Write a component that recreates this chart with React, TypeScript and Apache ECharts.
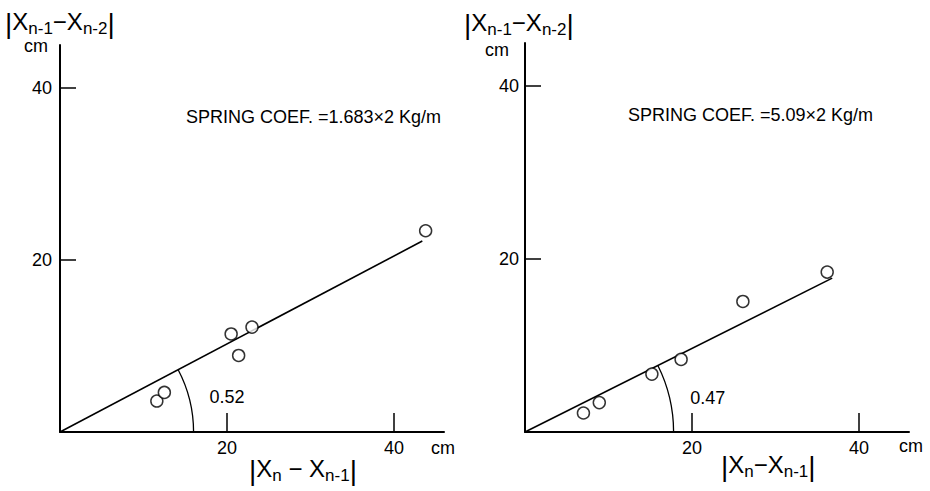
import React, { useEffect, useRef } from 'react';
import * as echarts from 'echarts';

// ---------- data ----------
const tickValues = [20, 40];

const leftX = [11.6, 12.5, 20.5, 21.4, 23.0, 43.8];
const leftY = [3.6, 4.6, 11.4, 8.9, 12.2, 23.4];
const leftFitX = [0, 43.4];
const leftFitY = [0, 22.2];
const leftArcRadius = 16.0;
const leftAngleLabel = '0.52';
const leftAngleLabelPos = [17.9, 4.1];
const leftCoef = 'SPRING COEF. =1.683×2 Kg/m';

const rightX = [7.0, 8.9, 15.2, 18.7, 26.1, 36.2];
const rightY = [2.2, 3.4, 6.7, 8.4, 15.1, 18.5];
const rightFitX = [0, 36.8];
const rightFitY = [0, 17.8];
const rightArcRadius = 17.8;
const rightAngleLabel = '0.47';
const rightAngleLabelPos = [19.8, 3.9];
const rightCoef = 'SPRING COEF. =5.09×2 Kg/m';

const FONT = 'Liberation Sans';

function axisPair(gridIndex: number, yLabelMargin: number) {
  const x = {
    gridIndex,
    type: 'value',
    min: 0,
    max: 46,
    interval: 20,
    axisLine: { show: true, onZero: false, lineStyle: { color: '#000', width: 2 } },
    axisTick: { show: true, inside: true, length: 19, customValues: tickValues, lineStyle: { color: '#000', width: 1.5 } },
    axisLabel: { customValues: tickValues, color: '#000', fontSize: 18, margin: 7, fontFamily: FONT },
    splitLine: { show: false },
  };
  const y = {
    gridIndex,
    type: 'value',
    min: 0,
    max: 45,
    interval: 20,
    axisLine: { show: true, onZero: false, lineStyle: { color: '#000', width: 2 } },
    axisTick: { show: true, inside: true, length: 16, customValues: tickValues, lineStyle: { color: '#000', width: 1.5 } },
    axisLabel: { customValues: tickValues, color: '#000', fontSize: 18, margin: yLabelMargin, fontFamily: FONT },
    splitLine: { show: false },
  };
  return { x, y };
}

function seriesFor(idx: number, xs: number[], ys: number[], fx: number[], fy: number[], arcR: number, label: string, labelPos: number[]) {
  return [
    {
      type: 'line',
      xAxisIndex: idx,
      yAxisIndex: idx,
      data: fx.map((v, i) => [v, fy[i]]),
      symbol: 'none',
      lineStyle: { color: '#000', width: 1.6 },
      z: 2,
    },
    {
      type: 'scatter',
      xAxisIndex: idx,
      yAxisIndex: idx,
      data: xs.map((v, i) => [v, ys[i]]),
      symbol: 'circle',
      symbolSize: 12,
      itemStyle: { color: '#fff', borderColor: '#000', borderWidth: 1.5 },
      z: 3,
    },
    {
      type: 'custom',
      xAxisIndex: idx,
      yAxisIndex: idx,
      clip: false,
      data: [[arcR, fx[1], fy[1], labelPos[0], labelPos[1]]],
      renderItem: (params: any, api: any) => {
        const o = api.coord([0, 0]);
        const e = api.coord([api.value(1), api.value(2)]);
        const r = api.size([api.value(0), 0])[0];
        const ang = Math.atan2(e[1] - o[1], e[0] - o[0]);
        const lp = api.coord([api.value(3), api.value(4)]);
        return {
          type: 'group',
          children: [
            {
              type: 'arc',
              shape: { cx: o[0], cy: o[1], r, startAngle: ang, endAngle: 0, clockwise: true },
              style: { stroke: '#000', fill: 'none', lineWidth: 1.3 },
            },
            {
              type: 'text',
              x: lp[0],
              y: lp[1],
              style: { text: label, fill: '#000', fontSize: 18, fontFamily: FONT, align: 'left', verticalAlign: 'middle' },
            },
          ],
        };
      },
    },
  ];
}

function titleText(x: number, y: number, main: string[], subs: string[], sep: string) {
  let text = '{bar||}';
  main.forEach((m, i) => {
    text += `{m|${m}}{s|${subs[i]}}`;
    if (i < main.length - 1) text += `{m|${sep}}`;
  });
  text += '{bar||}';
  return {
    type: 'text',
    x,
    y,
    style: {
      text,
      fill: '#000',
      fontFamily: FONT,
      verticalAlign: 'middle',
      rich: {
        bar: { fontSize: 28, lineHeight: 28, verticalAlign: 'bottom', fontFamily: FONT, color: '#000' },
        m: { fontSize: 24, lineHeight: 24, verticalAlign: 'bottom', padding: [0, 0, 4, 0], fontFamily: FONT, color: '#000' },
        s: { fontSize: 17, lineHeight: 17, verticalAlign: 'bottom', fontFamily: FONT, color: '#000' },
      },
    },
  };
}

function plainText(x: number, y: number, text: string, fontSize = 18) {
  return {
    type: 'text',
    x,
    y,
    style: { text, fill: '#000', fontSize, fontFamily: FONT, verticalAlign: 'middle' },
  };
}

export default function App() {
  const ref = useRef<HTMLDivElement>(null);
  useEffect(() => {
    if (!ref.current) return;
    const chart = echarts.init(ref.current, null, { renderer: 'svg' });
    const a0 = axisPair(0, 8);
    const a1 = axisPair(1, 6);
    chart.setOption({
      animation: false,
      backgroundColor: '#fff',
      grid: [
        { left: 60, top: 45, width: 384, height: 387 },
        { left: 525, top: 43, width: 384, height: 389 },
      ],
      xAxis: [a0.x, a1.x],
      yAxis: [a0.y, a1.y],
      series: [
        ...seriesFor(0, leftX, leftY, leftFitX, leftFitY, leftArcRadius, leftAngleLabel, leftAngleLabelPos),
        ...seriesFor(1, rightX, rightY, rightFitX, rightFitY, rightArcRadius, rightAngleLabel, rightAngleLabelPos),
      ],
      graphic: [
        titleText(5, 23, ['X', 'X'], ['n-1', 'n-2'], '−'),
        plainText(24, 46, 'cm'),
        plainText(431, 448, 'cm'),
        titleText(249, 470, ['X', 'X'], ['n', 'n-1'], ' − '),
        plainText(186, 117, leftCoef, 18),

        titleText(464, 24, ['X', 'X'], ['n-1', 'n-2'], '−'),
        plainText(485, 50, 'cm'),
        plainText(899, 446, 'cm'),
        titleText(721, 466, ['X', 'X'], ['n', 'n-1'], '−'),
        plainText(628, 115, rightCoef, 18),
      ],
    });
    return () => chart.dispose();
  }, []);
  return (
    <div
      ref={ref}
      style={{ position: 'absolute', left: 0, top: 0, width: 930, height: 491, background: '#fff' }}
    />
  );
}
